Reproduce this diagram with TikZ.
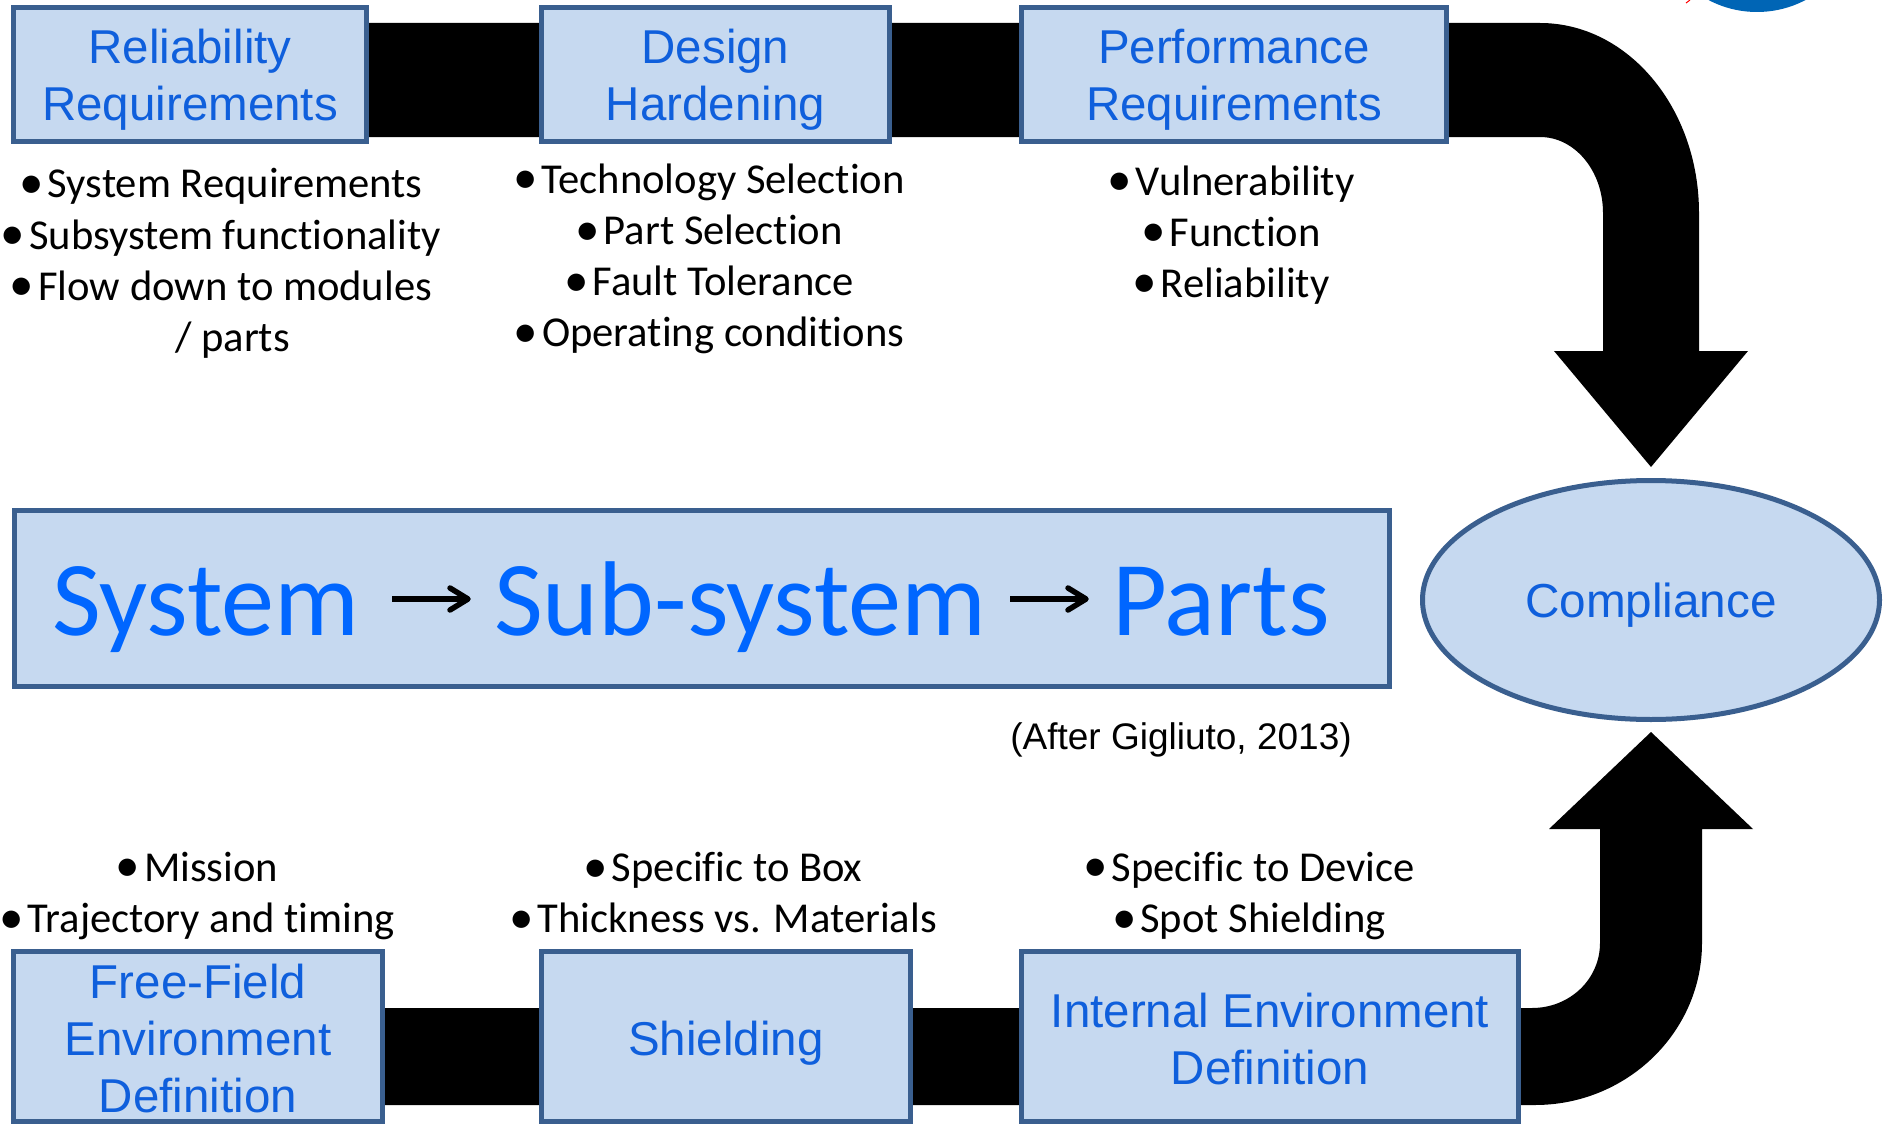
\documentclass[tikz,border=0pt]{standalone}
\usepackage{fontspec}
\setmainfont[Ligatures={NoCommon}]{Carlito}
\newfontfamily\headfont{Liberation Sans}
\usetikzlibrary{shapes.geometric}
\definecolor{boxfill}{HTML}{C6D9F0}
\definecolor{boxline}{HTML}{3A5F8F}
\definecolor{headblue}{HTML}{0F5FDC}
\definecolor{bigblue}{HTML}{0066FF}
\definecolor{logoblue}{HTML}{0065B5}
\newcommand{\itm}{\raisebox{-0.5pt}{\scalebox{1.15}{•}}\hspace{4pt}}
\tikzset{
  headbox/.style={draw=boxline,fill=boxfill,line width=5pt,rectangle,line join=miter,inner sep=0pt,outer sep=0pt},
  headtext/.style={inner sep=0pt,align=center,text=headblue,font=\headfont\fontsize{47.5}{57}\selectfont},
  listtext/.style={inner sep=0pt,align=center,text=black,font=\fontsize{42.6}{51.1}\selectfont},
  bigtext/.style={inner sep=0pt,anchor=base west,text=bigblue,font=\fontsize{106.3}{110}\selectfont},
  thinarrow/.style={draw=black,line width=5.5pt,line cap=round,line join=round},
  band/.style={fill=black,draw=none}
}
\begin{document}
\begin{tikzpicture}[x=1pt,y=-1pt]
\useasboundingbox (0,0) rectangle (1883,1124);
% logo fragment at the top edge
\begin{scope}
\clip (0,0) rectangle (1883,1124);
\fill[logoblue] (1757,-92) circle (104);
\draw[red,line width=1pt] (1686,3) -- (1690,0);
\end{scope}
% broad arrows
\fill[band] (190,23) -- (1540,23) .. controls (1628,23) and (1699,108) .. (1699,213)
  -- (1699,351) -- (1748,351) -- (1651,467) -- (1554,351) -- (1603,351) -- (1603,213)
  .. controls (1603,171) and (1575,137) .. (1540,137) -- (190,137) -- cycle;
\fill[band] (198,1008) -- (1532,1008) .. controls (1570,1008) and (1600,979) .. (1600,943)
  -- (1600,829) -- (1549,829) -- (1651,732) -- (1753,829) -- (1702,829) -- (1702,943)
  .. controls (1702,1032) and (1627,1105) .. (1535,1105) -- (198,1105) -- cycle;
% top boxes
\node[headbox,minimum width=352.5pt,minimum height=134pt] (rel) at (190,74.5) {};
\node[headbox,minimum width=347.5pt,minimum height=134pt] (des) at (715.5,74.5) {};
\node[headbox,minimum width=424.5pt,minimum height=134pt] (per) at (1234,74.5) {};
\node[headtext] (relt) at (190,80) {Reliability\\Requirements};
\node[headtext] (dest) at (715.5,80) {Design\\Hardening};
\node[headtext] (pert) at (1234,80) {Performance\\Requirements};
% top lists
\node[listtext] (l1) at (221,263.4) {\itm System Requirements\\\itm Subsystem functionality\\\itm Flow down to modules\\\hspace*{23pt}/ parts};
\node[listtext] (l2) at (709,259) {\itm Technology Selection\\\itm Part Selection\\\itm Fault Tolerance\\\itm Operating conditions};
\node[listtext] (l3) at (1231,235) {\itm Vulnerability\\\itm Function\\\itm Reliability};
% central box
\node[draw=boxline,fill=boxfill,line width=5pt,rectangle,inner sep=0pt,outer sep=0pt,minimum width=1375pt,minimum height=176pt] (main) at (702,598.5) {};
\node[bigtext] (sys) at (52,635) {System};
\node[bigtext] (sub) at (494,635) {Sub-system};
\node[bigtext] (par) at (1112,635) {Parts};
\coordinate (a1s) at (392,599); \coordinate (a1e) at (468,599);
\coordinate (a1u) at (450,588); \coordinate (a1d) at (450,610);
\coordinate (a2s) at (1010,599); \coordinate (a2e) at (1086,599);
\coordinate (a2u) at (1068,588); \coordinate (a2d) at (1068,610);
\draw[thinarrow,line cap=butt] (a1s) -- (a1e);
\draw[thinarrow] (a1u) -- (a1e) -- (a1d);
\draw[thinarrow,line cap=butt] (a2s) -- (a2e);
\draw[thinarrow] (a2u) -- (a2e) -- (a2d);
% compliance
\node[ellipse,draw=boxline,fill=boxfill,line width=5pt,inner sep=0pt,outer sep=0pt,minimum width=457pt,minimum height=239pt] (comp) at (1651,600) {};
\node[inner sep=0pt,text=headblue,font=\headfont\fontsize{47.7}{57}\selectfont] (compt) at (1651,605) {Compliance};
\node[inner sep=0pt,text=black,font=\headfont\fontsize{37}{44}\selectfont] (cite) at (1181,740) {(After Gigliuto, 2013)};
% bottom lists
\node[listtext] (l4) at (197,896) {\itm Mission\\\itm Trajectory and timing};
\node[listtext] (l5) at (723,893) {\itm Specific to Box\\\itm Thickness vs. Materials};
\node[listtext] (l6) at (1249,896) {\itm Specific to Device\\\itm Spot Shielding};
% bottom boxes
\node[headbox,minimum width=368.5pt,minimum height=170pt] (fre) at (198,1036.5) {};
\node[headbox,minimum width=368.5pt,minimum height=170pt] (shi) at (726,1036.5) {};
\node[headbox,minimum width=496.5pt,minimum height=170pt] (int) at (1270,1036.5) {};
\node[headtext] (fret) at (198,1039) {Free-Field\\Environment\\Definition};
\node[headtext] (shit) at (726,1043.5) {Shielding};
\node[headtext] (intt) at (1270,1039) {Internal Environment\\Definition};
\end{tikzpicture}
\end{document}
